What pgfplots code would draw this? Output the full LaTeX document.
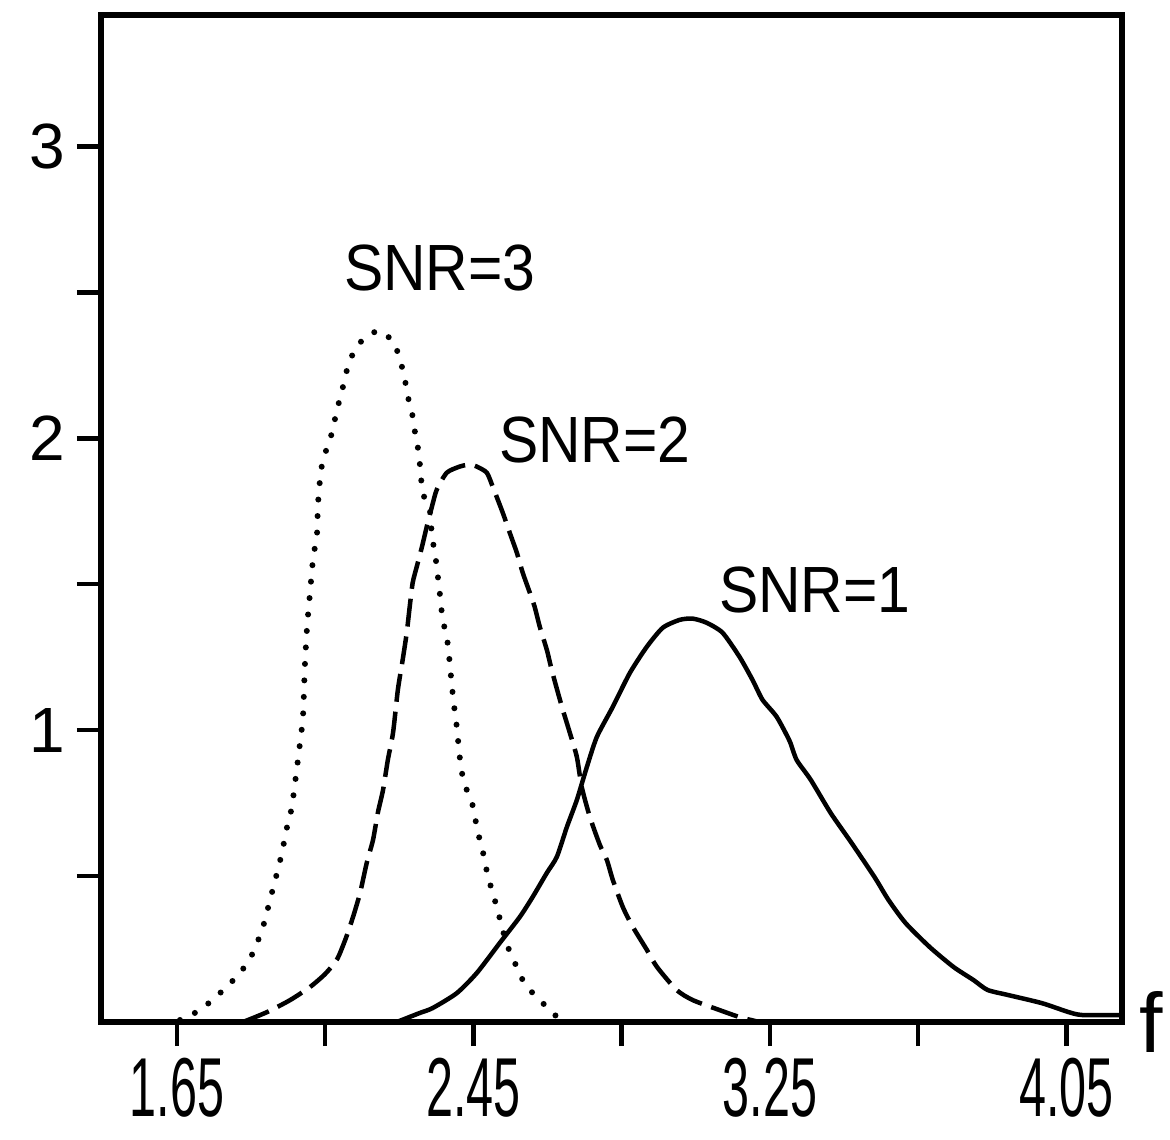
\documentclass[border=0pt]{standalone}
\usepackage{pgfplots}
\pgfplotsset{compat=1.18}
\usepackage{fontspec}
\setmainfont{Liberation Sans}
\begin{document}
\begin{tikzpicture}
\path[use as bounding box] (0,0) rectangle (117mm,-113.9mm);
\begin{axis}[
  at={(10.1mm,-102.2mm)}, anchor=south west,
  scale only axis, width=102.1mm, height=100.7mm,
  xmin=1.445, xmax=4.2, ymin=0, ymax=3.45,
  clip=false,
  axis line style={line width=0.55mm},
  tick pos=left, tick align=outside,
  major tick length=2.4mm, minor tick length=2.4mm,
  every tick/.style={black, line width=0.45mm},
  xtick={1.65,2.45,3.25,4.05},
  minor xtick={2.05,2.85,3.65},
  xticklabels={\scalebox{0.58}[1]{1.65},\scalebox{0.58}[1]{2.45},\scalebox{0.58}[1]{3.25},\scalebox{0.58}[1]{4.05}},
  ytick={1,2,3},
  minor ytick={0.5,1.5,2.5},
  yticklabels={1,2,3},
  xticklabel style={font=\fontsize{23.8}{25}\selectfont},
  yticklabel style={font=\fontsize{18.2}{20}\selectfont},
]
% SNR=1 solid
\addplot[black, line width=0.45mm, smooth, tension=0.4] coordinates {
(2.243,0) (2.305,0.031) (2.340,0.048) (2.405,0.099) (2.459,0.168) (2.521,0.271)
(2.575,0.360) (2.610,0.429) (2.648,0.511) (2.675,0.566) (2.702,0.668) (2.729,0.761)
(2.756,0.874) (2.783,0.977) (2.826,1.080) (2.872,1.196) (2.918,1.286) (2.961,1.351)
(3.007,1.378) (3.042,1.382) (3.079,1.368) (3.122,1.334) (3.168,1.251) (3.203,1.172)
(3.230,1.104) (3.268,1.046) (3.303,0.963) (3.322,0.898) (3.360,0.830) (3.414,0.716)
(3.470,0.614) (3.532,0.497) (3.570,0.418) (3.616,0.339) (3.681,0.257) (3.745,0.189)
(3.799,0.144) (3.837,0.110) (3.891,0.093) (3.983,0.065) (4.056,0.034) (4.093,0.024)
(4.193,0.024)
};
% SNR=2 dashed
\addplot[black, line width=0.45mm, smooth, tension=0.4, dash pattern=on 2.8mm off 1.0mm] coordinates {
(1.828,0) (1.893,0.034) (1.955,0.075) (2.009,0.120) (2.050,0.165) (2.082,0.215)
(2.105,0.285) (2.125,0.360) (2.144,0.442) (2.162,0.545) (2.179,0.624) (2.192,0.717)
(2.206,0.795) (2.219,0.898) (2.233,0.991) (2.246,1.138) (2.259,1.241) (2.270,1.334)
(2.278,1.423) (2.286,1.505) (2.297,1.560) (2.311,1.628) (2.324,1.697) (2.338,1.766)
(2.351,1.824) (2.378,1.882) (2.413,1.903) (2.440,1.910) (2.459,1.903) (2.486,1.882)
(2.502,1.834) (2.529,1.745) (2.548,1.676) (2.567,1.608) (2.583,1.539) (2.602,1.471)
(2.615,1.423) (2.629,1.354) (2.648,1.275) (2.661,1.207) (2.678,1.128) (2.691,1.070)
(2.710,0.991) (2.729,0.908) (2.742,0.806) (2.764,0.703) (2.791,0.607) (2.810,0.555)
(2.826,0.487) (2.853,0.394) (2.880,0.326) (2.918,0.247) (2.945,0.189) (2.998,0.110)
(3.042,0.075) (3.114,0.041) (3.168,0.017) (3.222,0)
};
% SNR=3 dotted
\addplot[black, line width=0.6mm, smooth, tension=0.4, line cap=round, dash pattern=on 0pt off 1.65mm] coordinates {
(1.658,0.007) (1.712,0.041) (1.766,0.099) (1.820,0.168) (1.855,0.237) (1.882,0.326)
(1.901,0.418) (1.920,0.511) (1.933,0.579) (1.947,0.668) (1.960,0.737) (1.974,0.874)
(1.982,0.956) (1.990,1.046) (1.995,1.217) (2.001,1.354) (2.009,1.471) (2.017,1.584)
(2.028,1.676) (2.030,1.765) (2.036,1.858) (2.044,1.927) (2.063,1.995) (2.076,2.064)
(2.084,2.108) (2.098,2.177) (2.111,2.245) (2.130,2.304) (2.152,2.338) (2.179,2.362)
(2.203,2.365) (2.233,2.331) (2.246,2.293) (2.257,2.245) (2.265,2.201) (2.273,2.143)
(2.284,2.088) (2.292,2.023) (2.300,1.968) (2.305,1.916) (2.313,1.814) (2.332,1.755)
(2.338,1.663) (2.346,1.608) (2.354,1.526) (2.359,1.471) (2.367,1.378) (2.378,1.320)
(2.386,1.231) (2.392,1.148) (2.400,1.059) (2.405,1.011) (2.413,0.908) (2.421,0.840)
(2.432,0.795) (2.446,0.751) (2.454,0.703) (2.462,0.648) (2.473,0.600) (2.481,0.545)
(2.494,0.477) (2.513,0.394) (2.529,0.315) (2.543,0.257) (2.562,0.202) (2.583,0.144)
(2.610,0.099) (2.637,0.065) (2.664,0.031) (2.691,0)
};
\node[font=\fontsize{18.6}{20}\selectfont] at (axis cs:2.359,2.585) {\scalebox{0.9}[1]{SNR=3}};
\node[font=\fontsize{18.6}{20}\selectfont] at (axis cs:2.777,1.995) {\scalebox{0.9}[1]{SNR=2}};
\node[font=\fontsize{18.6}{20}\selectfont] at (axis cs:3.371,1.481) {\scalebox{0.9}[1]{SNR=1}};
\node[font=\fontsize{24}{26}\selectfont] at (axis cs:4.279,0) {f};
\end{axis}
\end{tikzpicture}
\end{document}
